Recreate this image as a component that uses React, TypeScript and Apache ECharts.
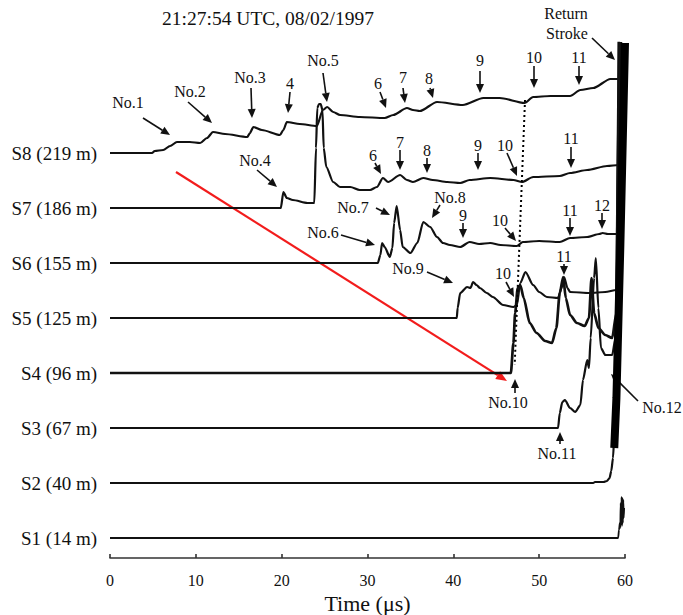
import { useEffect, useRef } from "react";
import * as echarts from "echarts";

// Station names (bottom to top)
const stationNames = [
  "S1 (14 m)",
  "S2 (40 m)",
  "S3 (67 m)",
  "S4 (96 m)",
  "S5 (125 m)",
  "S6 (155 m)",
  "S7 (186 m)",
  "S8 (219 m)",
];

// Waveforms: [time (µs), amplitude (arb. units)]
const s1: [number, number][] = [
  [0, 0], [59.2, 0], [59.3, 8], [59.4, 15], [59.45, 10], [59.5, 35], [59.55, 14], [59.6, 41], [59.65, 12], [59.7, 40],
  [59.75, 15], [59.8, 38], [59.85, 20], [59.9, 30],
];
const s2: [number, number][] = [
  [0, 0], [56.3, 0], [56.5, 1], [57.5, 1], [57.9, 2], [58.2, 5], [58.4, 12], [58.6, 25], [58.8, 55], [59.0, 100],
  [59.2, 170], [59.4, 300], [59.6, 500],
];
const s3: [number, number][] = [
  [0, 0], [52.2, 0], [52.4, 15], [52.7, 26], [53.0, 28], [53.6, 20], [54.2, 16], [54.8, 23], [55.1, 48], [55.6, 68], [55.8, 60],
  [56.0, 90], [56.4, 150], [56.6, 170], [56.9, 120], [57.2, 80], [57.7, 73], [58.5, 73], [58.9, 90], [59.3, 200], [59.5, 500],
];
const s4: [number, number][] = [
  [0, 0], [46.7, 0], [47.0, 30], [47.2, 60], [47.5, 85], [47.8, 88], [48.2, 75], [48.9, 50], [49.7, 40], [50.7, 32], [51.5, 30],
  [52.0, 45], [52.4, 80], [52.8, 96], [53.1, 75], [53.6, 58], [54.4, 50], [55.3, 47], [55.8, 55], [56.1, 95], [56.4, 60],
  [56.9, 45], [57.7, 38], [58.5, 35], [59.0, 60], [59.4, 500],
];
const s5: [number, number][] = [
  [0, 0], [40.4, 0], [40.5, 10], [40.8, 25], [41.6, 31], [42.0, 30], [42.3, 36], [42.7, 33], [43.1, 30], [43.9, 25], [44.6, 21],
  [45.8, 13], [47.0, 11], [47.4, 13], [47.8, 35], [48.4, 46], [49.3, 33], [50.0, 26], [50.9, 21], [52.2, 20], [52.6, 30],
  [52.9, 41], [53.3, 30], [53.6, 26], [55.9, 25], [57.7, 26], [59.0, 28], [59.5, 500],
];
const s6: [number, number][] = [
  [0, 0], [31.2, 0], [31.5, 8], [31.7, 20], [32.0, 16], [32.6, 6], [32.9, 15], [33.1, 40], [33.4, 57], [33.8, 33], [34.1, 16],
  [35.0, 10], [35.8, 20], [36.5, 41], [37.3, 36], [38.1, 26], [38.8, 20], [39.6, 18], [40.8, 16], [41.9, 21], [43.0, 19],
  [44.3, 20], [45.5, 18], [47.4, 17], [48.1, 21], [50.0, 22], [52.4, 21], [53.6, 25], [55.6, 26], [57.0, 29], [57.4, 30],
  [58.0, 29], [59.3, 29], [59.5, 500],
];
const s7: [number, number][] = [
  [0, 0], [19.9, 0], [20.2, 16], [20.6, 10], [21.3, 8], [23.0, 5], [23.8, 5], [24.0, 60], [24.15, 100], [24.35, 104],
  [24.55, 104], [24.75, 98], [24.9, 60], [25.2, 41], [26.0, 26], [26.8, 21], [28.0, 21], [29.1, 18], [30.3, 18], [31.1, 21],
  [31.8, 30], [32.4, 26], [33.8, 33], [34.6, 28], [35.3, 26], [36.5, 30], [37.6, 28], [39.3, 26], [40.8, 25], [41.9, 28],
  [44.3, 30], [47.0, 28], [48.0, 26], [49.3, 31], [52.4, 32], [53.6, 35], [55.6, 38], [57.9, 42], [59.3, 43], [59.5, 500],
];
const s8: [number, number][] = [
  [0, 0], [4.9, 0], [5.2, 2], [6.2, 3], [7.0, 7], [7.8, 11], [9.3, 11], [10.5, 10], [11.3, 15], [12.0, 21], [13.4, 19],
  [16.0, 16], [16.3, 20], [16.7, 26], [17.7, 23], [19.8, 18], [20.2, 23], [20.6, 31], [22.1, 29], [24.1, 27], [24.8, 43],
  [25.3, 46], [26.0, 41], [26.8, 38], [29.1, 36], [32.0, 35], [33.0, 38], [34.6, 45], [35.3, 43], [36.1, 42], [38.1, 51],
  [41.1, 48], [43.5, 55], [45.4, 55], [48.3, 50], [49.3, 56], [51.3, 57], [53.6, 57], [54.8, 63], [56.3, 65], [58.3, 74],
  [59.4, 74], [59.5, 500],
];
const waveforms = [s1, s2, s3, s4, s5, s6, s7, s8];

// Return stroke (saturated, all stations) [time, stacked level]
const returnStroke: [number, number][] = [[58.75, 90], [59.0, 140], [59.45, 290], [60.0, 495]];
// Dotted line tracking pulse No.10: [time, stacked level]
const pulse10Track: [number, number][] = [[48.35, 438], [47.15, 173]];

const SPACING = 55;
const FONT = "Liberation Serif";
const INK = "#111";

function arrow(x1: number, y1: number, x2: number, y2: number, color = INK, w = 1.6, head = 9, hw = 4) {
  const dx = x2 - x1, dy = y2 - y1;
  const L = Math.hypot(dx, dy);
  const ux = dx / L, uy = dy / L;
  const bx = x2 - ux * head, by = y2 - uy * head;
  const px = -uy, py = ux;
  return [
    { type: "line", silent: true, shape: { x1, y1, x2: bx, y2: by }, style: { stroke: color, lineWidth: w } },
    {
      type: "polygon", silent: true,
      shape: { points: [[x2, y2], [bx + px * hw, by + py * hw], [bx - px * hw, by - py * hw]] },
      style: { fill: color },
    },
  ];
}

function txt(x: number, y: number, text: string, size = 16) {
  return {
    type: "text", x, y, silent: true,
    style: { text, fill: INK, fontSize: size, fontFamily: FONT, align: "center", verticalAlign: "middle", textAlign: "center", textVerticalAlign: "middle" },
  };
}

export default function App() {
  const ref = useRef<HTMLDivElement>(null);
  useEffect(() => {
    if (!ref.current) return;
    const chart = echarts.init(ref.current, undefined, { renderer: "svg" });

    const series: any[] = waveforms.map((w, i) => ({
      type: "line",
      name: stationNames[i],
      symbol: "circle",
      symbolSize: 0,
      showSymbol: true,
      smooth: 0.25,
      smoothMonotone: "x",
      data: w.map(([t, a], k) =>
        k === 0
          ? {
              value: [t, a + i * SPACING],
              label: {
                show: true, position: "left", distance: 13, formatter: stationNames[i],
                color: INK, fontSize: 19, fontFamily: FONT,
              },
            }
          : [t, a + i * SPACING]
      ),
      lineStyle: { color: INK, width: i === 3 ? 2.7 : i === 0 ? 1.8 : 2.2 },
      itemStyle: { color: INK },
      z: 2,
    }));
    series.push({
      type: "line", name: "Return stroke", symbol: "none", clip: false,
      data: returnStroke,
      lineStyle: { color: "#000", width: 8, cap: "butt" },
      z: 3,
    });
    series.push({
      type: "line", name: "No.10 track", symbol: "none",
      data: pulse10Track,
      lineStyle: { color: "#000", width: 2, type: [2, 3] },
      z: 3,
    });

    const g: any[] = [
      txt(268, 18, "21:27:54 UTC, 08/02/1997", 19.5),
      // S8 row
      txt(128, 102, "No.1"), ...arrow(143, 118, 170, 135),
      txt(190, 91, "No.2"), ...arrow(188, 102, 212, 123),
      txt(250, 77, "No.3"), ...arrow(251, 88, 252, 118),
      txt(290, 83, "4"), ...arrow(290, 92, 288, 113),
      txt(323, 60, "No.5"), ...arrow(323, 73, 327, 102),
      txt(378, 83, "6"), ...arrow(380, 92, 386, 108),
      txt(403, 77, "7"), ...arrow(403, 88, 405, 103),
      txt(429, 78, "8"), ...arrow(430, 88, 433, 98),
      txt(480, 60, "9"), ...arrow(480, 71, 480, 93),
      txt(534, 57, "10"), ...arrow(534, 66, 534, 88),
      txt(579, 57, "11"), ...arrow(579, 66, 579, 85),
      txt(566, 13, "Return"), txt(567, 33, "Stroke"), ...arrow(592, 38, 615, 60),
      // S7 row
      txt(255, 160, "No.4"), ...arrow(257, 170, 277, 187),
      txt(373, 155, "6"), ...arrow(375, 163, 381, 174),
      txt(400, 142, "7"), ...arrow(400, 150, 400, 170),
      txt(427, 150, "8"), ...arrow(427, 158, 427, 173),
      txt(478, 145, "9"), ...arrow(478, 153, 478, 170),
      txt(505, 145, "10"), ...arrow(507, 153, 517, 176),
      txt(571, 138, "11"), ...arrow(571, 147, 571, 168),
      // S6 row
      txt(353, 207, "No.7"), ...arrow(376, 208, 390, 215),
      txt(323, 232, "No.6"), ...arrow(341, 235, 375, 245),
      txt(450, 197, "No.8"), ...arrow(440, 205, 432, 218),
      txt(463, 215, "9"), ...arrow(463, 223, 463, 238),
      txt(500, 220, "10"), ...arrow(505, 228, 516, 241),
      txt(570, 210, "11"), ...arrow(570, 218, 570, 236),
      txt(602, 205, "12"), ...arrow(602, 213, 602, 229),
      // S5 row
      txt(408, 268, "No.9"), ...arrow(427, 272, 453, 283),
      txt(503, 273, "10"), ...arrow(506, 282, 514, 297),
      txt(564, 256, "11"), ...arrow(564, 264, 564, 275),
      // S4 / S3 / S2
      txt(508, 402, "No.10"), ...arrow(515, 393, 515, 379),
      txt(662, 407, "No.12"), ...arrow(638, 401, 611, 374),
      txt(557, 453, "No.11"), ...arrow(560, 444, 560, 432),
      // red propagation arrow
      ...arrow(176, 172, 507, 381, "#f21c1c", 2.2, 11, 4.5),
    ];

    chart.setOption({
      animation: false,
      backgroundColor: "#fff",
      grid: { left: 110, right: 58, top: 43, bottom: 57, outerBoundsMode: "none" },
      xAxis: {
        type: "value", min: 0, max: 60, interval: 10,
        axisLine: { show: true, onZero: false, lineStyle: { color: "#333", width: 1.6 } },
        axisTick: { show: true, inside: true, length: 4, lineStyle: { color: "#333", width: 1.6 } },
        axisLabel: { color: INK, fontSize: 16, fontFamily: FONT, margin: 14 },
        splitLine: { show: false },
        name: "Time (μs)", nameLocation: "middle", nameGap: 29,
        nameTextStyle: { color: INK, fontSize: 22, fontFamily: FONT },
      },
      yAxis: { type: "value", min: -20, max: 495, show: false, splitLine: { show: false } },
      series,
      graphic: g,
    });
    return () => chart.dispose();
  }, []);
  return <div ref={ref} style={{ position: "fixed", left: 0, top: 0, width: 683, height: 615 }} />;
}
